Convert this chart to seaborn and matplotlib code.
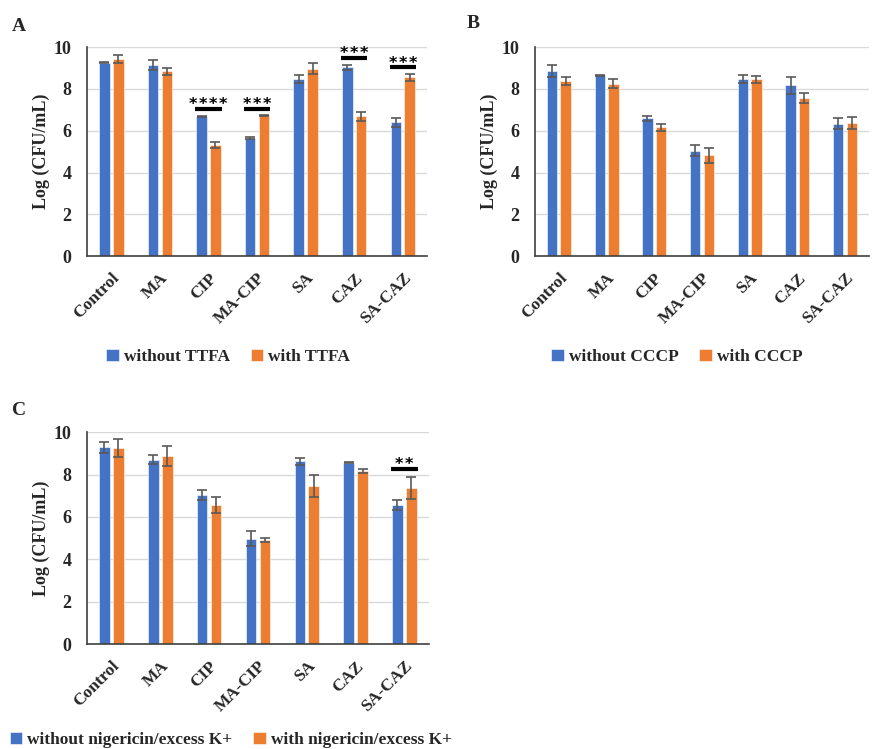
import numpy as np
import pandas as pd
import matplotlib
matplotlib.use("Agg")
import matplotlib.pyplot as plt
import seaborn as sns

categories = ["Control", "MA", "CIP", "MA-CIP", "SA", "CAZ", "SA-CAZ"]

a_labels = ["without TTFA", "with TTFA"]
a_without = [9.25, 9.16, 6.70, 5.65, 8.49, 9.03, 6.40]
a_without_err = [0.03, 0.24, 0.03, 0.03, 0.20, 0.10, 0.22]
a_with = [9.43, 8.84, 5.33, 6.74, 8.96, 6.69, 8.55]
a_with_err = [0.20, 0.15, 0.15, 0.03, 0.26, 0.22, 0.17]
a_sig_cats = ["CIP", "MA-CIP", "CAZ", "SA-CAZ"]
a_sig_y = [7.05, 7.05, 9.49, 9.04]
a_sig_txt = ["****", "***", "***", "***"]

b_labels = ["without CCCP", "with CCCP"]
b_without = [8.87, 8.66, 6.59, 5.05, 8.47, 8.18, 6.34]
b_without_err = [0.28, 0.03, 0.13, 0.27, 0.20, 0.40, 0.26]
b_with = [8.39, 8.26, 6.16, 4.82, 8.46, 7.58, 6.37]
b_with_err = [0.18, 0.20, 0.17, 0.37, 0.16, 0.25, 0.30]

c_labels = ["without nigericin/excess K+", "with nigericin/excess K+"]
c_without = [9.28, 8.71, 7.03, 4.97, 8.62, 8.55, 6.57]
c_without_err = [0.24, 0.19, 0.22, 0.36, 0.16, 0.02, 0.24]
c_with = [9.25, 8.88, 6.57, 4.92, 7.48, 8.18, 7.36]
c_with_err = [0.41, 0.48, 0.36, 0.11, 0.52, 0.10, 0.53]
c_sig_cats = ["SA-CAZ"]
c_sig_y = [8.27]
c_sig_txt = ["**"]

BLUE = "#4472C4"
ORANGE = "#ED7D31"

sns.set_theme(style="white")
plt.rcParams["font.family"] = ["Liberation Serif", "DejaVu Serif"]
plt.rcParams["font.weight"] = "bold"
plt.rcParams["axes.labelweight"] = "bold"

fig = plt.figure(figsize=(8.72, 7.49), dpi=100)


def draw(ax, without, without_err, with_, with_err, labels, legend_anchor,
         sig_cats=(), sig_y=(), sig_txt=()):
    df = pd.DataFrame({
        "cat": categories * 2,
        "val": list(without) + list(with_),
        "grp": [labels[0]] * len(categories) + [labels[1]] * len(categories),
    })
    sns.barplot(data=df, x="cat", y="val", hue="grp", order=categories,
                hue_order=labels, palette=[BLUE, ORANGE], width=0.57, gap=0.24,
                errorbar=None, ax=ax, edgecolor="white", linewidth=0.4,
                saturation=1)
    errs = [without_err, with_err]
    for cont, err in zip(ax.containers[:2], errs):
        xs = [p.get_x() + p.get_width() / 2 for p in cont.patches]
        ys = [p.get_height() for p in cont.patches]
        ax.errorbar(xs, ys, yerr=err, fmt="none", ecolor="#595959",
                    elinewidth=1.2, capsize=3.5, capthick=1.2, zorder=5)
    # significance bars
    for cat, y, txt in zip(sig_cats, sig_y, sig_txt):
        i = categories.index(cat)
        pb = ax.containers[0].patches[i]
        po = ax.containers[1].patches[i]
        x0 = pb.get_x() - 0.02
        x1 = po.get_x() + po.get_width() + 0.02
        ax.plot([x0, x1], [y, y], color="black", lw=3, solid_capstyle="butt",
                zorder=6)
        ax.text((x0 + x1) / 2, y - 0.02, "\u200a".join(txt), ha="center",
                va="baseline", fontsize=11.5, fontweight="bold", color="black",
                family=["DejaVu Sans"])
    ax.set_ylim(0, 10)
    ax.set_yticks(np.arange(0, 11, 2))
    ax.set_xlim(-0.5, len(categories) - 0.5)
    ax.yaxis.grid(True, color="#D9D9D9", lw=1)
    ax.xaxis.grid(False)
    ax.set_axisbelow(True)
    for s in ["top", "right"]:
        ax.spines[s].set_visible(False)
    for s in ["left", "bottom"]:
        ax.spines[s].set_color("#404040")
        ax.spines[s].set_linewidth(1.2)
    ax.set_xlabel("")
    ax.set_ylabel("Log (CFU/mL)", fontsize=13, fontweight="bold", labelpad=3)
    ax.tick_params(axis="y", length=0, pad=11, labelsize=13)
    ax.set_xticks(range(len(categories)))
    ax.set_xticklabels(categories, rotation=45, ha="right",
                       rotation_mode="anchor", fontsize=12.5, fontweight="bold")
    ax.tick_params(axis="x", which="major", length=0, pad=10)
    ax.set_xticks(np.arange(-0.5, len(categories), 1), minor=True)
    ax.tick_params(axis="x", which="minor", length=5, direction="in",
                   color="#404040", width=1)
    for t in ax.get_yticklabels():
        t.set_fontweight("bold")
    leg = ax.get_legend()
    if leg is not None:
        leg.remove()
    handles = ax.containers[0].patches[0], ax.containers[1].patches[0]
    ax.legend(handles, labels, loc="center", bbox_to_anchor=legend_anchor,
              ncol=2, frameon=False, handlelength=0.7, handleheight=0.7,
              handletextpad=0.3, columnspacing=1.2,
              prop={"weight": "bold", "size": 12.5})


axA = fig.add_axes([0.0998, 0.658, 0.390, 0.279])
axB = fig.add_axes([0.6135, 0.658, 0.383, 0.279])
axC = fig.add_axes([0.0998, 0.140, 0.392, 0.283])

draw(axA, a_without, a_without_err, a_with, a_with_err, a_labels,
     (0.415, -0.483), a_sig_cats, a_sig_y, a_sig_txt)
draw(axB, b_without, b_without_err, b_with, b_with_err, b_labels,
     (0.425, -0.483))
draw(axC, c_without, c_without_err, c_with, c_with_err, c_labels,
     (0.421, -0.453), c_sig_cats, c_sig_y, c_sig_txt)

fig.text(12 / 872, 1 - 31 / 749, "A", fontsize=14, fontweight="bold")
fig.text(467 / 872, 1 - 28 / 749, "B", fontsize=14, fontweight="bold")
fig.text(12 / 872, 1 - 415 / 749, "C", fontsize=14, fontweight="bold")

fig.savefig("out.png", dpi=100)
